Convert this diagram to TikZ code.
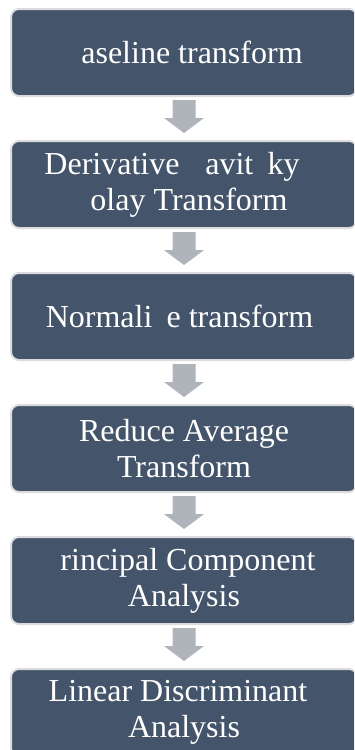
\documentclass[tikz,border=0pt]{standalone}
\usepackage{fontspec}
\setmainfont{Liberation Serif}
\usetikzlibrary{calc}
\definecolor{boxfill}{HTML}{44546A}
\definecolor{boxrim}{HTML}{DADCDF}
\definecolor{arrowgray}{HTML}{AFB3BA}

% block arrow pointing down from the bottom of #1 to the top of #2
\newcommand\blockarrow[2]{%
  \fill[downarrow] ($(#1.south)+(-11.5,-4)$) -- ($(#1.south)+(11.5,-4)$)
    -- ($(#1.south)+(11.5,-22)$) -- ($(#1.south)+(20,-22)$)
    -- ($(#2.north)+(0,8)$)
    -- ($(#1.south)+(-20,-22)$) -- ($(#1.south)+(-11.5,-22)$) -- cycle;}

\begin{document}
\begin{tikzpicture}[x=1pt,y=1pt,
  stage/.style={draw=boxrim, line width=2pt, fill=boxfill, rounded corners=8pt,
    minimum width=346pt, minimum height=87pt, outer sep=0pt, inner sep=0pt,
    text=white, align=center, font=\fontsize{32}{36}\selectfont},
  downarrow/.style={fill=arrowgray}]
\useasboundingbox (0,0) rectangle (354,-750);
\clip (0,0) rectangle (354,-750);

\node[stage] (b1) at (184,-52.5)  {\kern16pt aseline transform};
\node[stage] (b2) at (184,-184.5) {Derivative \phantom{S}avit\phantom{z}ky\kern24pt\\\kern10pt olay Transform};
\node[stage] (b3) at (184,-316.5) {Normali\phantom{z}e transform\kern9pt};
\node[stage] (b4) at (184,-448.5) {Reduce Average\\Transform};
\node[stage] (b5) at (184,-580.5) {\kern8pt rincipal Component\\Analysis};
\node[stage] (b6) at (184,-712.5) {Linear Discriminant\kern12pt\\Analysis};

\blockarrow{b1}{b2}
\blockarrow{b2}{b3}
\blockarrow{b3}{b4}
\blockarrow{b4}{b5}
\blockarrow{b5}{b6}
\end{tikzpicture}
\end{document}
